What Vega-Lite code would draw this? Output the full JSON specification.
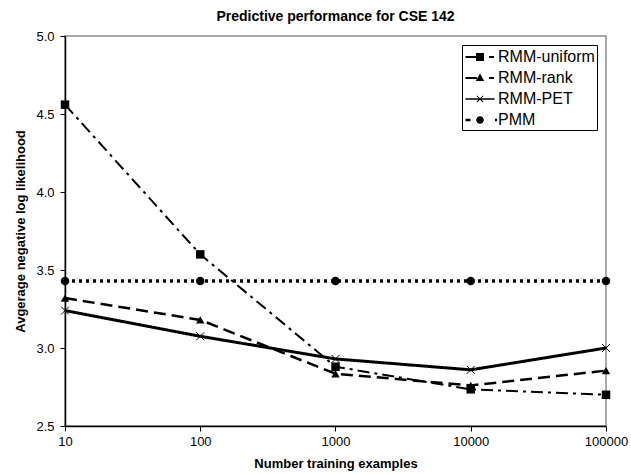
{
  "$schema": "https://vega.github.io/schema/vega-lite/v6.json",
  "autosize": {"type": "none"},
  "width": 541,
  "height": 390,
  "padding": {"left": 65, "top": 36, "right": 25, "bottom": 48},
  "background": "white",
  "config": {
    "font": "Liberation Sans",
    "view": {"stroke": "#8c8c8c", "strokeWidth": 1.5},
    "axis": {"grid": false, "domainColor": "#000", "tickColor": "#000", "labelColor": "#000", "titleColor": "#000", "labelFont": "Liberation Sans", "titleFont": "Liberation Sans", "labelFontSize": 13, "titleFontSize": 13, "titleFontWeight": "bold", "domainWidth": 1.5, "tickSize": 5}
  },
  "title": {"text": "Predictive performance for CSE 142", "fontSize": 14, "fontWeight": "bold", "font": "Liberation Sans", "color": "#000", "offset": 6, "anchor": "middle"},
  "data": {"values": [
    {"n": 10, "v": 4.56, "s": "RMM-uniform"},
    {"n": 100, "v": 3.60, "s": "RMM-uniform"},
    {"n": 1000, "v": 2.88, "s": "RMM-uniform"},
    {"n": 10000, "v": 2.735, "s": "RMM-uniform"},
    {"n": 100000, "v": 2.70, "s": "RMM-uniform"},
    {"n": 10, "v": 3.32, "s": "RMM-rank"},
    {"n": 100, "v": 3.18, "s": "RMM-rank"},
    {"n": 1000, "v": 2.835, "s": "RMM-rank"},
    {"n": 10000, "v": 2.76, "s": "RMM-rank"},
    {"n": 100000, "v": 2.855, "s": "RMM-rank"},
    {"n": 10, "v": 3.24, "s": "RMM-PET"},
    {"n": 100, "v": 3.075, "s": "RMM-PET"},
    {"n": 1000, "v": 2.93, "s": "RMM-PET"},
    {"n": 10000, "v": 2.86, "s": "RMM-PET"},
    {"n": 100000, "v": 3.0, "s": "RMM-PET"},
    {"n": 10, "v": 3.43, "s": "PMM"},
    {"n": 100, "v": 3.43, "s": "PMM"},
    {"n": 1000, "v": 3.43, "s": "PMM"},
    {"n": 10000, "v": 3.43, "s": "PMM"},
    {"n": 100000, "v": 3.43, "s": "PMM"}
  ]},
  "encoding": {
    "x": {"field": "n", "type": "quantitative", "scale": {"type": "log", "domain": [10, 100000], "nice": false},
      "axis": {"title": "Number training examples", "values": [10, 100, 1000, 10000, 100000], "format": "d", "labelFlush": false, "labelPadding": 4, "titlePadding": 9}},
    "y": {"field": "v", "type": "quantitative", "scale": {"domain": [2.5, 5.0], "nice": false, "zero": false},
      "axis": {"title": "Avgerage negative log likelihood", "values": [2.5, 3.0, 3.5, 4.0, 4.5, 5.0], "format": ".1f", "labelPadding": 6, "titlePadding": 8}}
  },
  "layer": [
    {
      "mark": {"type": "line", "color": "#000"},
      "encoding": {
        "strokeDash": {"field": "s", "type": "nominal", "legend": null,
          "scale": {"domain": ["PMM", "RMM-PET", "RMM-rank", "RMM-uniform"], "range": [[3, 4], [1, 0], [12, 6], [12, 5, 3, 5]]}},
        "strokeWidth": {"field": "s", "type": "nominal", "legend": null,
          "scale": {"domain": ["PMM", "RMM-PET", "RMM-rank", "RMM-uniform"], "range": [3.5, 2, 2.2, 1.8]}}
      }
    },
    {
      "transform": [{"filter": {"field": "s", "equal": "RMM-uniform"}}],
      "mark": {"type": "point", "shape": "square", "filled": true, "color": "#000", "opacity": 1, "size": 72}
    },
    {
      "transform": [{"filter": {"field": "s", "equal": "RMM-rank"}}],
      "mark": {"type": "point", "shape": "triangle-up", "filled": true, "color": "#000", "opacity": 1, "size": 72}
    },
    {
      "transform": [{"filter": {"field": "s", "equal": "RMM-PET"}}],
      "mark": {"type": "point", "shape": "M-1,-1L1,1M-1,1L1,-1", "filled": false, "color": "#000", "strokeWidth": 1, "opacity": 1, "size": 64}
    },
    {
      "transform": [{"filter": {"field": "s", "equal": "PMM"}}],
      "mark": {"type": "point", "shape": "circle", "filled": true, "color": "#000", "opacity": 1, "size": 72}
    },
    {
      "transform": [{"filter": "datum.n < 0"}],
      "mark": {"type": "point", "filled": true, "color": "#000"},
      "encoding": {
        "shape": {"field": "s", "type": "nominal",
          "scale": {"domain": ["RMM-uniform", "RMM-rank", "RMM-PET", "PMM"],
            "range": [
              "M-1.45,-0.1H-0.3V0.1H-1.45ZM-0.4,-0.4H0.4V0.4H-0.4ZM0.9,-0.1H1.4V0.1H0.9Z",
              "M-1.45,-0.1H-0.3V0.1H-1.45ZM0,-0.45L0.42,0.3H-0.42ZM0.9,-0.1H1.4V0.1H0.9Z",
              "M-1.45,-0.08H1.45V0.08H-1.45ZM-0.35,-0.28L-0.28,-0.35L0.35,0.28L0.28,0.35ZM-0.35,0.28L0.28,-0.35L0.35,-0.28L-0.28,0.35Z",
              "M-1.45,-0.12H-0.95V0.12H-1.45ZM0.4,0L0.28,0.28L0,0.4L-0.28,0.28L-0.4,0L-0.28,-0.28L0,-0.4L0.28,-0.28ZM1.5,-0.12H1.7V0.12H1.5Z"
            ]},
          "legend": {
            "title": null, "orient": "top-right", "offset": 9,
            "strokeColor": "#000", "fillColor": "#fff", "padding": 2,
            "labelFont": "Liberation Sans", "labelFontSize": 16, "labelColor": "#000",
            "symbolSize": 400, "symbolOffset": 6, "labelOffset": 8, "rowPadding": 3,
            "symbolOpacity": 1, "symbolFillColor": "#000", "symbolStrokeWidth": 0
          }
        }
      }
    }
  ]
}
